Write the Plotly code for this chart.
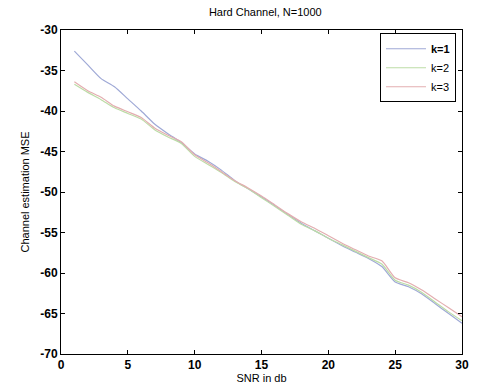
import plotly.graph_objects as go

snr = list(range(1, 31))
k1 = [-32.6, -34.3, -36.0, -37.0, -38.5, -40.0, -41.6, -42.8, -43.9, -45.3,
      -46.2, -47.3, -48.6, -49.6, -50.6, -51.7, -52.8, -53.9, -54.8, -55.7,
      -56.6, -57.4, -58.2, -59.2, -61.1, -61.7, -62.6, -63.8, -65.0, -66.2]
k2 = [-36.7, -37.7, -38.6, -39.6, -40.3, -41.0, -42.3, -43.2, -44.0, -45.6,
      -46.6, -47.6, -48.7, -49.6, -50.7, -51.8, -52.9, -54.0, -54.8, -55.7,
      -56.5, -57.3, -58.1, -58.9, -60.9, -61.5, -62.4, -63.6, -64.8, -65.9]
k3 = [-36.4, -37.5, -38.3, -39.4, -40.1, -40.8, -42.1, -43.0, -43.8, -45.4,
      -46.4, -47.5, -48.6, -49.5, -50.5, -51.6, -52.7, -53.7, -54.5, -55.4,
      -56.3, -57.1, -57.9, -58.5, -60.6, -61.2, -62.1, -63.2, -64.3, -65.4]
names = ["<b>k=1</b>", "k=2", "k=3"]
colors = ["#9fa9d6", "#bcdca6", "#e3aeb0"]
xticks = [0, 5, 10, 15, 20, 25, 30]
yticks = [-70, -65, -60, -55, -50, -45, -40, -35, -30]

fig = go.Figure()
for y, n, c in zip([k1, k2, k3], names, colors):
    fig.add_trace(go.Scatter(x=snr, y=y, mode="lines", name=n,
                             line=dict(color=c, width=1.2, shape="spline", smoothing=0.6)))

axis_common = dict(showgrid=False, zeroline=False, showline=True, linecolor="black",
                   linewidth=1, mirror="ticks", ticks="inside", ticklen=4,
                   tickcolor="black", tickfont=dict(size=12, color="black",
                                                    family="Liberation Sans, Arial"))
fig.update_layout(
    width=478, height=391,
    margin=dict(l=61, r=9, t=30, b=36),
    paper_bgcolor="white", plot_bgcolor="white",
    font=dict(family="Liberation Sans, Arial", color="black"),
    title=dict(text="Hard Channel, N=1000", x=0.555, xanchor="center", y=0.97,
               yanchor="middle", font=dict(size=11, color="black")),
    xaxis=dict(range=[0, 30], tickvals=xticks,
               ticktext=["<b>%d</b>" % v for v in xticks],
               title=dict(text="SNR in db", font=dict(size=11), standoff=2), **axis_common),
    yaxis=dict(range=[-70, -30], tickvals=yticks,
               ticktext=["<b>%d</b>" % v for v in yticks],
               title=dict(text="Channel estimation MSE", font=dict(size=11), standoff=8),
               **axis_common),
    legend=dict(x=0.985, y=0.99, xanchor="right", yanchor="top",
                bgcolor="white", bordercolor="black", borderwidth=1,
                font=dict(size=11, color="black"), itemwidth=40,
                tracegroupgap=0),
    showlegend=True,
)
fig.write_html("out.html")
